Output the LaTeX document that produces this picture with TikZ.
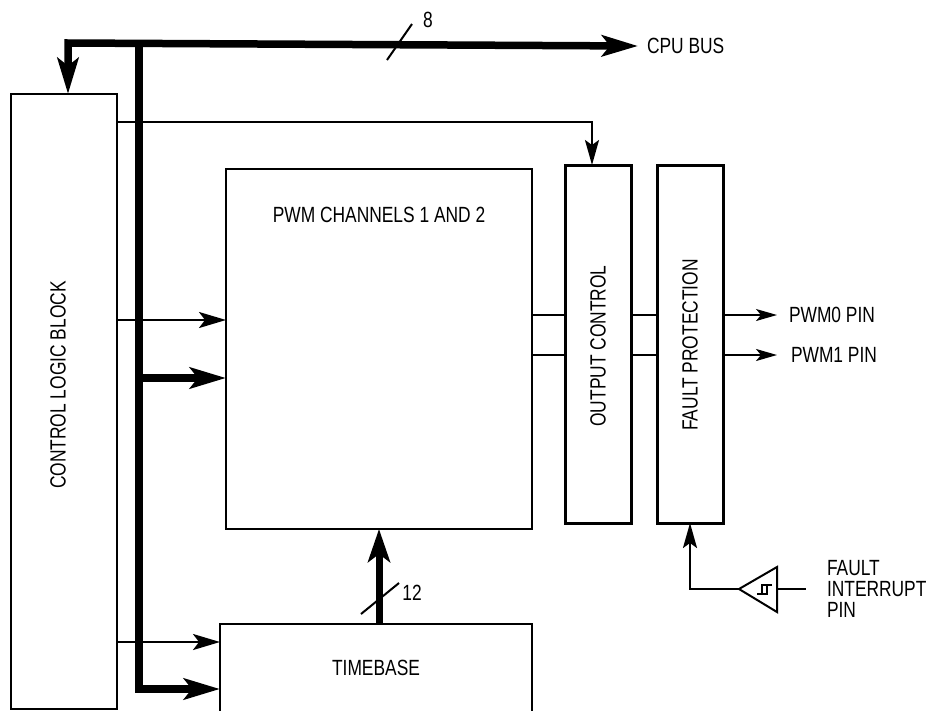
\documentclass[tikz,border=0pt]{standalone}
\usepackage{fontspec}
\setmainfont[FakeStretch=0.79]{Liberation Sans}
\usetikzlibrary{arrows.meta}
\begin{document}
\begin{tikzpicture}[x=1pt,y=-1pt,
  every node/.style={inner sep=0pt, outer sep=0pt, font=\fontsize{22}{21}\selectfont},
  blk/.style={draw, line width=2pt, anchor=north west},
  blkthick/.style={draw, line width=3pt, anchor=north west},
  thinarrow/.style={line width=2.2pt, -{Stealth[length=27pt,width=16pt,inset=6pt]}},
  smallarrow/.style={line width=2.2pt, -{Stealth[length=25pt,width=14pt,inset=5pt]}},
  pinarrow/.style={-{Stealth[length=21pt,width=12pt,inset=5pt]}},
  busarrow/.style={line width=7.5pt, -{Stealth[length=36pt,width=21pt,inset=8pt]}},
  bustip/.tip={Stealth[length=36pt,width=21pt,inset=8pt]},
  bus/.style={line width=7.5pt},
  lbl/.style={anchor=west},
  slash/.style={line width=2pt}]
\useasboundingbox (0,0) rectangle (932,710);

% blocks
\node[blk, minimum width=106pt, minimum height=615pt] (ctl) at (11,94) {};
\node[rotate=90] (ctltxt) at (58,385) {CONTROL LOGIC BLOCK};
\node[blk, minimum width=306pt, minimum height=360pt] (pwm) at (226,169) {};
\node (pwmtxt) at (379,215) {PWM CHANNELS 1 AND 2};
\node[blkthick, minimum width=66pt, minimum height=358pt] (oc) at (565,165) {};
\node[rotate=90] (octxt) at (598,346) {OUTPUT CONTROL};
\node[blkthick, minimum width=66pt, minimum height=358pt] (fp) at (657,165) {};
\node[rotate=90] (fptxt) at (690,345) {FAULT PROTECTION};
\node[anchor=north west, minimum width=312pt, minimum height=88pt] (tb) at (220,624) {TIMEBASE};
\draw[line width=2pt] (tb.south west) -- (tb.north west) -- (tb.north east) -- (tb.south east);

% labels
\node[lbl, inner xsep=9pt] (cpu) at (638,46) {CPU BUS};
\node (n8) at (428,20) {8};
\node (n12) at (412,593) {12};
\node[lbl, inner xsep=12pt] (pwm0) at (777,315) {PWM0 PIN};
\node[lbl, inner xsep=14pt] (pwm1) at (777,355) {PWM1 PIN};
\node[lbl, align=left, inner xsep=21pt] (fault) at (806,589) {FAULT\\INTERRUPT\\PIN};

% coordinates
\coordinate (busL) at (68,43);
\coordinate (busV) at (139,43);
\coordinate (busB) at (139,689);
\coordinate (busP) at (139,378);
\coordinate (y122) at (0,122);
\coordinate (x592) at (592,0);
\coordinate (y320) at (0,320);
\coordinate (y642) at (0,642);
\coordinate (y315) at (0,315);
\coordinate (y355) at (0,355);
\coordinate (x379) at (379,0);
\coordinate (buftip) at (739,589);
\coordinate (bufin) at (777,589);

% thin control lines
\draw[smallarrow] (ctl.east |- y122) -| (oc.north -| x592);
\draw[thinarrow] (ctl.east |- y320) -- (pwm.west |- y320);
\draw[thinarrow] (ctl.east |- y642) -- (tb.west |- y642);

% buses
\draw[bus, bustip-bustip] (busL |- ctl.north) -- (busL) -- (cpu.west);
\draw[busarrow] (busV) -- (busB) -- (tb.west |- busB);
\draw[busarrow] (busP) -- (pwm.west |- busP);
\draw[line width=7pt, -{Stealth[length=33pt,width=22pt,inset=8pt]}] (tb.north -| x379) -- (pwm.south -| x379);
\draw[slash] (387,60) -- (412,24);
\draw[slash] (361,614) -- (399,583);

% channel outputs
\draw[line width=1.2pt] (pwm.east |- y315) -- (oc.west |- y315);
\draw[line width=2pt] (pwm.east |- y355) -- (oc.west |- y355);
\draw[line width=1.2pt] (oc.east |- y315) -- (fp.west |- y315);
\draw[line width=2pt] (oc.east |- y355) -- (fp.west |- y355);
\draw[pinarrow, line width=1.4pt] (fp.east |- y315) -- (pwm0.west);
\draw[pinarrow, line width=2pt] (fp.east |- y355) -- (pwm1.west);

% fault input
\draw[line width=2pt, line join=miter] (buftip) -- (777,567) -- (777,612) -- cycle;
\draw[line width=1.2pt] (757,594) -- (767,594) -- (767,585);
\draw[line width=1.2pt] (772,585) -- (762,585) -- (762,594);
\draw[smallarrow] (buftip) -| (fp.south);
\draw[line width=2pt] (bufin) -- (fault.west);
\end{tikzpicture}
\end{document}
